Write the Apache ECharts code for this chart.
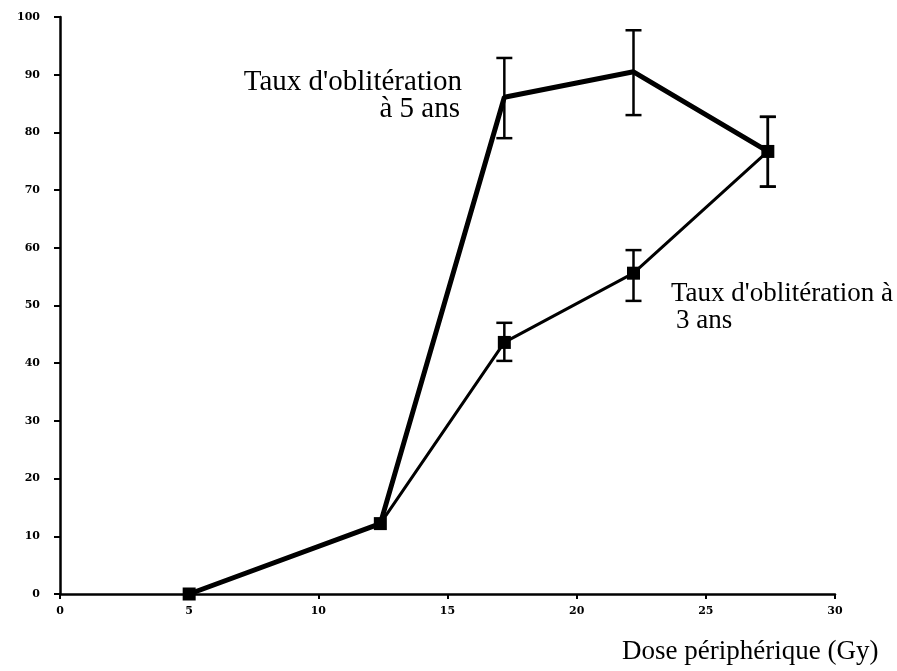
<!DOCTYPE html>
<html>
<head>
<meta charset="UTF-8">
<title>Taux d'oblitération</title>
<style>
  html, body { margin: 0; padding: 0; background: #fff; }
  #chart { width: 897px; height: 671px; }
</style>
</head>
<body>
<div id="chart"></div>
<script src="https://cdn.jsdelivr.net/npm/echarts@6/dist/echarts.min.js"></script>
<script>
// dose (Gy) and obliteration rate (%)
var doses5 = [5, 12.4, 17.2, 22.2, 27.4];
var rate5 = [0, 12.2, 86.1, 90.5, 76.7];
var err5Low = [null, null, 79.0, 83.0, 70.6];
var err5High = [null, null, 92.9, 97.7, 82.7];

var doses3 = [5, 12.4, 17.2, 22.2, 27.4];
var rate3 = [0, 12.2, 43.6, 55.6, 76.7];
var err3Low = [null, null, 40.4, 50.8, 70.6];
var err3High = [null, null, 47.0, 59.6, 82.7];

var xTicks = [0, 5, 10, 15, 20, 25, 30];
var yTicks = [0, 10, 20, 30, 40, 50, 60, 70, 80, 90, 100];

function pairs(xs, ys) {
    var out = [];
    for (var i = 0; i < xs.length; i++) out.push([xs[i], ys[i]]);
    return out;
}
function errData(xs, lo, hi) {
    var out = [];
    for (var i = 0; i < xs.length; i++) {
        if (lo[i] != null) out.push([xs[i], lo[i], hi[i]]);
    }
    return out;
}
function errorBar(params, api) {
    var x = api.value(0);
    var lo = api.coord([x, api.value(1)]);
    var hi = api.coord([x, api.value(2)]);
    var w = 8;
    var st = { stroke: '#000', lineWidth: 2.5 };
    return {
        type: 'group',
        children: [
            { type: 'line', shape: { x1: hi[0], y1: hi[1], x2: lo[0], y2: lo[1] }, style: st },
            { type: 'line', shape: { x1: hi[0] - w, y1: hi[1], x2: hi[0] + w, y2: hi[1] }, style: st },
            { type: 'line', shape: { x1: lo[0] - w, y1: lo[1], x2: lo[0] + w, y2: lo[1] }, style: st }
        ]
    };
}

var chart = echarts.init(document.getElementById('chart'));
var tickFont = { color: '#000', fontFamily: 'DejaVu Serif', fontWeight: 'bold', fontSize: 11 };

chart.setOption({
    animation: false,
    backgroundColor: '#fff',
    grid: { left: 60, right: 62, top: 17, bottom: 77 },
    xAxis: {
        type: 'value', min: 0, max: 30, interval: 5,
        axisLine: { lineStyle: { color: '#000', width: 2.5 } },
        axisTick: { length: 5, lineStyle: { color: '#000', width: 2 } },
        axisLabel: Object.assign({ margin: 12, formatter: function (v) { return xTicks.indexOf(v) >= 0 ? v : ''; } }, tickFont),
        splitLine: { show: false }
    },
    yAxis: {
        type: 'value', min: 0, max: 100, interval: 10,
        axisLine: { show: true, lineStyle: { color: '#000', width: 2.5 } },
        axisTick: { show: true, length: 6, lineStyle: { color: '#000', width: 2 } },
        axisLabel: Object.assign({ margin: 20, formatter: function (v) { return yTicks.indexOf(v) >= 0 ? v : ''; } }, tickFont),
        splitLine: { show: false }
    },
    series: [
        {
            name: '5 ans', type: 'line', data: pairs(doses5, rate5),
            symbol: 'none', lineStyle: { color: '#000', width: 5 }
        },
        {
            name: '3 ans', type: 'line', data: pairs(doses3, rate3),
            symbol: 'rect', symbolSize: 13,
            itemStyle: { color: '#000' },
            lineStyle: { color: '#000', width: 3 }
        },
        { type: 'custom', renderItem: errorBar, data: errData(doses5, err5Low, err5High), z: 5 },
        { type: 'custom', renderItem: errorBar, data: errData(doses3, err3Low, err3High), z: 5 }
    ],
    graphic: [
        { type: 'text', right: 435, top: 68, style: { text: "Taux d'oblitération", font: '29px "Liberation Serif"', fill: '#000' } },
        { type: 'text', right: 437, top: 95, style: { text: 'à 5 ans', font: '29px "Liberation Serif"', fill: '#000' } },
        { type: 'text', left: 671, top: 280, style: { text: "Taux d'oblitération à", font: '27px "Liberation Serif"', fill: '#000' } },
        { type: 'text', left: 676, top: 307, style: { text: '3 ans', font: '27px "Liberation Serif"', fill: '#000' } },
        { type: 'text', left: 622, top: 638, style: { text: 'Dose périphérique (Gy)', font: '27px "Liberation Serif"', fill: '#000' } }
    ]
});
</script>
</body>
</html>
